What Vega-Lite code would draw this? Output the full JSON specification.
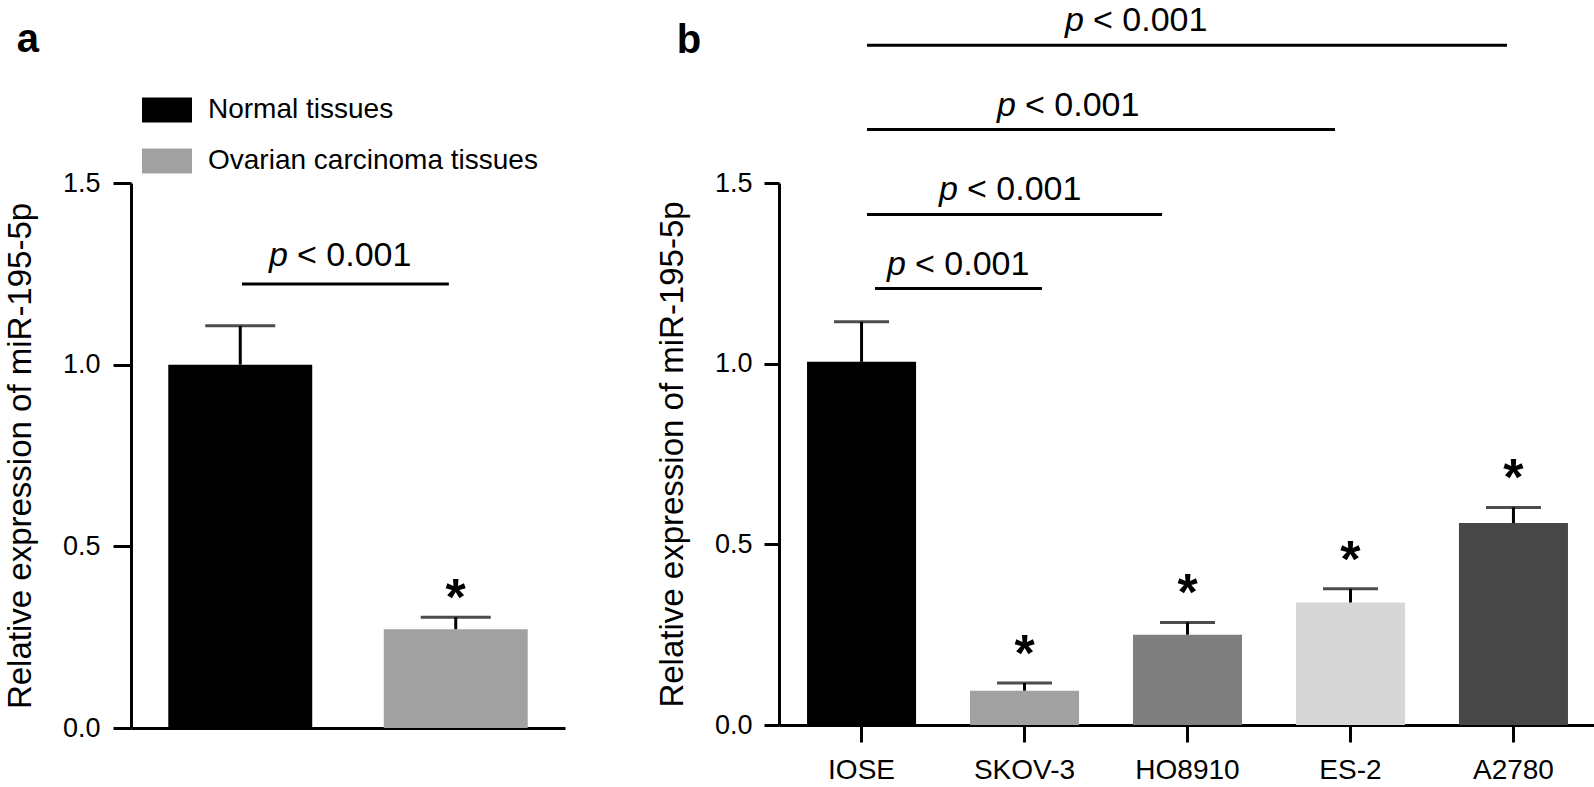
{
  "$schema": "https://vega.github.io/schema/vega-lite/v6.json",
  "background": "white",
  "padding": {"left": 4, "top": 4, "right": 0, "bottom": 0},
  "autosize": {"type": "pad"},
  "datasets": {
    "tissues": [
      {"group": "Normal tissues", "mean": 1.0, "upper": 1.107, "star": ""},
      {"group": "Ovarian carcinoma tissues", "mean": 0.272, "upper": 0.305, "star": "*"}
    ],
    "cells": [
      {"cell": "IOSE", "mean": 1.005, "upper": 1.116, "star": ""},
      {"cell": "SKOV-3", "mean": 0.095, "upper": 0.116, "star": "*"},
      {"cell": "HO8910", "mean": 0.25, "upper": 0.284, "star": "*"},
      {"cell": "ES-2", "mean": 0.339, "upper": 0.377, "star": "*"},
      {"cell": "A2780", "mean": 0.559, "upper": 0.602, "star": "*"}
    ],
    "sigA": [
      {"x1": 0.008, "x2": 0.968, "y": 1.222, "tx": 0.463, "p": "p", "rest": "< 0.001"}
    ],
    "sigB": [
      {"x1": 0.083, "x2": 1.107, "y": 1.208, "tx": 0.592, "p": "p", "rest": "< 0.001"},
      {"x1": 0.034, "x2": 1.844, "y": 1.413, "tx": 0.911, "p": "p", "rest": "< 0.001"},
      {"x1": 0.034, "x2": 2.905, "y": 1.648, "tx": 1.267, "p": "p", "rest": "< 0.001"},
      {"x1": 0.034, "x2": 3.96, "y": 1.881, "tx": 1.684, "p": "p", "rest": "< 0.001"}
    ],
    "panelA": [{"x": -0.985, "y": 1.861, "label": "a"}],
    "panelB": [{"x": -1.058, "y": 1.86, "label": "b"}]
  },
  "spacing": 214,
  "bounds": "flush",
  "resolve": {"scale": {"color": "independent"}, "legend": {"color": "independent"}},
  "hconcat": [
    {
      "width": 434,
      "height": 545,
      "resolve": {"scale": {"x": "independent"}},
      "layer": [
        {
          "data": {"name": "tissues"},
          "encoding": {
            "x": {"field": "group", "type": "nominal", "sort": null,
                  "scale": {"paddingInner": 0.332, "paddingOuter": 0.173},
                  "axis": {"title": null, "labels": false, "ticks": false, "domain": true}}
          },
          "layer": [
            {
              "mark": {"type": "bar"},
              "encoding": {
                "y": {"field": "mean", "type": "quantitative", "scale": {"domain": [0, 1.5]},
                      "axis": {"title": "Relative expression of miR-195-5p", "values": [0, 0.5, 1, 1.5], "format": ".1f", "tickSize": 18, "labelPadding": 13, "titlePadding": 25}},
                "color": {"field": "group", "type": "nominal", "sort": null,
                          "scale": {"domain": ["Normal tissues", "Ovarian carcinoma tissues"], "range": ["#000000", "#a1a1a1"]},
                          "legend": {"orient": "none", "legendX": 11, "legendY": -98, "title": null, "padding": 0,
                                     "symbolType": "M-1,-0.5H1V0.5H-1Z", "symbolSize": 2500, "symbolStrokeWidth": 0,
                                     "labelFontSize": 28, "labelOffset": 16, "rowPadding": 12, "labelLimit": 0, "labelColor": "black", "labelFont": "Liberation Sans"}}
              }
            },
            {
              "mark": {"type": "rule", "strokeWidth": 3, "color": "black"},
              "encoding": {
                "y": {"field": "mean", "type": "quantitative", "scale": {"domain": [0, 1.5]},
                      "axis": {"title": "Relative expression of miR-195-5p", "values": [0, 0.5, 1, 1.5], "format": ".1f", "tickSize": 18, "labelPadding": 13, "titlePadding": 25}},
                "y2": {"field": "upper"}
              }
            },
            {
              "mark": {"type": "tick", "size": 70, "thickness": 3, "color": "black"},
              "encoding": {
                "y": {"field": "upper", "type": "quantitative", "scale": {"domain": [0, 1.5]},
                      "axis": {"title": "Relative expression of miR-195-5p", "values": [0, 0.5, 1, 1.5], "format": ".1f", "tickSize": 18, "labelPadding": 13, "titlePadding": 25}}
              }
            },
            {
              "mark": {"type": "text", "fontSize": 52, "fontWeight": "bold", "baseline": "alphabetic", "dy": -2, "color": "black"},
              "encoding": {
                "y": {"field": "upper", "type": "quantitative", "scale": {"domain": [0, 1.5]},
                      "axis": {"title": "Relative expression of miR-195-5p", "values": [0, 0.5, 1, 1.5], "format": ".1f", "tickSize": 18, "labelPadding": 13, "titlePadding": 25}},
                "text": {"field": "star"}
              }
            }
          ]
        },
        {
          "layer": [
            {
              "data": {"name": "sigA"},
              "mark": {"type": "rule", "strokeWidth": 3, "color": "black"},
              "encoding": {
                "x": {"field": "x1", "type": "quantitative", "scale": {"domain": [-0.507, 1.507], "nice": false, "zero": false}, "axis": null},
                "x2": {"field": "x2"},
                "y": {"field": "y", "type": "quantitative", "scale": {"domain": [0, 1.5]},
                      "axis": {"title": "Relative expression of miR-195-5p", "values": [0, 0.5, 1, 1.5], "format": ".1f", "tickSize": 18, "labelPadding": 13, "titlePadding": 25}}
              }
            },
            {
              "data": {"name": "sigA"},
              "mark": {"type": "text", "fontSize": 34, "fontStyle": "italic", "align": "left", "baseline": "alphabetic", "dx": -71, "dy": -18, "color": "black"},
              "encoding": {
                "x": {"field": "tx", "type": "quantitative", "scale": {"domain": [-0.507, 1.507], "nice": false, "zero": false}, "axis": null},
                "y": {"field": "y", "type": "quantitative", "scale": {"domain": [0, 1.5]},
                      "axis": {"title": "Relative expression of miR-195-5p", "values": [0, 0.5, 1, 1.5], "format": ".1f", "tickSize": 18, "labelPadding": 13, "titlePadding": 25}},
                "text": {"field": "p"}
              }
            },
            {
              "data": {"name": "sigA"},
              "mark": {"type": "text", "fontSize": 34, "align": "left", "baseline": "alphabetic", "dx": -43, "dy": -18, "color": "black"},
              "encoding": {
                "x": {"field": "tx", "type": "quantitative", "scale": {"domain": [-0.507, 1.507], "nice": false, "zero": false}, "axis": null},
                "y": {"field": "y", "type": "quantitative", "scale": {"domain": [0, 1.5]},
                      "axis": {"title": "Relative expression of miR-195-5p", "values": [0, 0.5, 1, 1.5], "format": ".1f", "tickSize": 18, "labelPadding": 13, "titlePadding": 25}},
                "text": {"field": "rest"}
              }
            },
            {
              "data": {"name": "panelA"},
              "mark": {"type": "text", "fontSize": 40, "fontWeight": "bold", "align": "center", "baseline": "alphabetic", "color": "black"},
              "encoding": {
                "x": {"field": "x", "type": "quantitative", "scale": {"domain": [-0.507, 1.507], "nice": false, "zero": false}, "axis": null},
                "y": {"field": "y", "type": "quantitative", "scale": {"domain": [0, 1.5]},
                      "axis": {"title": "Relative expression of miR-195-5p", "values": [0, 0.5, 1, 1.5], "format": ".1f", "tickSize": 18, "labelPadding": 13, "titlePadding": 25}},
                "text": {"field": "label"}
              }
            }
          ]
        }
      ]
    },
    {
      "width": 817,
      "height": 542,
      "resolve": {"scale": {"x": "independent"}},
      "layer": [
        {
          "data": {"name": "cells"},
          "encoding": {
            "x": {"field": "cell", "type": "nominal", "sort": null,
                  "scale": {"paddingInner": 0.331, "paddingOuter": 0.172},
                  "axis": {"title": null, "labelAngle": 0, "tickSize": 17, "labelPadding": 14, "labelFontSize": 28}}
          },
          "layer": [
            {
              "mark": {"type": "bar"},
              "encoding": {
                "y": {"field": "mean", "type": "quantitative", "scale": {"domain": [0, 1.5]},
                      "axis": {"title": "Relative expression of miR-195-5p", "values": [0, 0.5, 1, 1.5], "format": ".1f", "tickSize": 15, "labelPadding": 12, "titlePadding": 25}},
                "color": {"field": "cell", "type": "nominal", "sort": null,
                          "scale": {"domain": ["IOSE", "SKOV-3", "HO8910", "ES-2", "A2780"], "range": ["#000000", "#a1a1a1", "#7f7f7f", "#d7d7d7", "#474747"]},
                          "legend": null}
              }
            },
            {
              "mark": {"type": "rule", "strokeWidth": 3, "color": "black"},
              "encoding": {
                "y": {"field": "mean", "type": "quantitative", "scale": {"domain": [0, 1.5]},
                      "axis": {"title": "Relative expression of miR-195-5p", "values": [0, 0.5, 1, 1.5], "format": ".1f", "tickSize": 15, "labelPadding": 12, "titlePadding": 25}},
                "y2": {"field": "upper"}
              }
            },
            {
              "mark": {"type": "tick", "size": 55, "thickness": 3, "color": "black"},
              "encoding": {
                "y": {"field": "upper", "type": "quantitative", "scale": {"domain": [0, 1.5]},
                      "axis": {"title": "Relative expression of miR-195-5p", "values": [0, 0.5, 1, 1.5], "format": ".1f", "tickSize": 15, "labelPadding": 12, "titlePadding": 25}}
              }
            },
            {
              "mark": {"type": "text", "fontSize": 52, "fontWeight": "bold", "baseline": "alphabetic", "dy": -12, "color": "black"},
              "encoding": {
                "y": {"field": "upper", "type": "quantitative", "scale": {"domain": [0, 1.5]},
                      "axis": {"title": "Relative expression of miR-195-5p", "values": [0, 0.5, 1, 1.5], "format": ".1f", "tickSize": 15, "labelPadding": 12, "titlePadding": 25}},
                "text": {"field": "star"}
              }
            }
          ]
        },
        {
          "layer": [
            {
              "data": {"name": "sigB"},
              "mark": {"type": "rule", "strokeWidth": 3, "color": "black"},
              "encoding": {
                "x": {"field": "x1", "type": "quantitative", "scale": {"domain": [-0.506, 4.506], "nice": false, "zero": false}, "axis": null},
                "x2": {"field": "x2"},
                "y": {"field": "y", "type": "quantitative", "scale": {"domain": [0, 1.5]},
                      "axis": {"title": "Relative expression of miR-195-5p", "values": [0, 0.5, 1, 1.5], "format": ".1f", "tickSize": 15, "labelPadding": 12, "titlePadding": 25}}
              }
            },
            {
              "data": {"name": "sigB"},
              "mark": {"type": "text", "fontSize": 34, "fontStyle": "italic", "align": "left", "baseline": "alphabetic", "dx": -71, "dy": -14, "color": "black"},
              "encoding": {
                "x": {"field": "tx", "type": "quantitative", "scale": {"domain": [-0.506, 4.506], "nice": false, "zero": false}, "axis": null},
                "y": {"field": "y", "type": "quantitative", "scale": {"domain": [0, 1.5]},
                      "axis": {"title": "Relative expression of miR-195-5p", "values": [0, 0.5, 1, 1.5], "format": ".1f", "tickSize": 15, "labelPadding": 12, "titlePadding": 25}},
                "text": {"field": "p"}
              }
            },
            {
              "data": {"name": "sigB"},
              "mark": {"type": "text", "fontSize": 34, "align": "left", "baseline": "alphabetic", "dx": -43, "dy": -14, "color": "black"},
              "encoding": {
                "x": {"field": "tx", "type": "quantitative", "scale": {"domain": [-0.506, 4.506], "nice": false, "zero": false}, "axis": null},
                "y": {"field": "y", "type": "quantitative", "scale": {"domain": [0, 1.5]},
                      "axis": {"title": "Relative expression of miR-195-5p", "values": [0, 0.5, 1, 1.5], "format": ".1f", "tickSize": 15, "labelPadding": 12, "titlePadding": 25}},
                "text": {"field": "rest"}
              }
            },
            {
              "data": {"name": "panelB"},
              "mark": {"type": "text", "fontSize": 40, "fontWeight": "bold", "align": "center", "baseline": "alphabetic", "color": "black"},
              "encoding": {
                "x": {"field": "x", "type": "quantitative", "scale": {"domain": [-0.506, 4.506], "nice": false, "zero": false}, "axis": null},
                "y": {"field": "y", "type": "quantitative", "scale": {"domain": [0, 1.5]},
                      "axis": {"title": "Relative expression of miR-195-5p", "values": [0, 0.5, 1, 1.5], "format": ".1f", "tickSize": 15, "labelPadding": 12, "titlePadding": 25}},
                "text": {"field": "label"}
              }
            }
          ]
        }
      ]
    }
  ],
  "config": {
    "view": {"stroke": null},
    "font": "Liberation Sans",
    "axis": {
      "domainColor": "black", "domainWidth": 3, "tickColor": "black", "tickWidth": 3,
      "labelColor": "black", "labelFontSize": 27, "labelFont": "Liberation Sans",
      "titleFont": "Liberation Sans", "titleFontSize": 33, "titleFontWeight": "normal", "titleColor": "black",
      "grid": false
    }
  }
}
